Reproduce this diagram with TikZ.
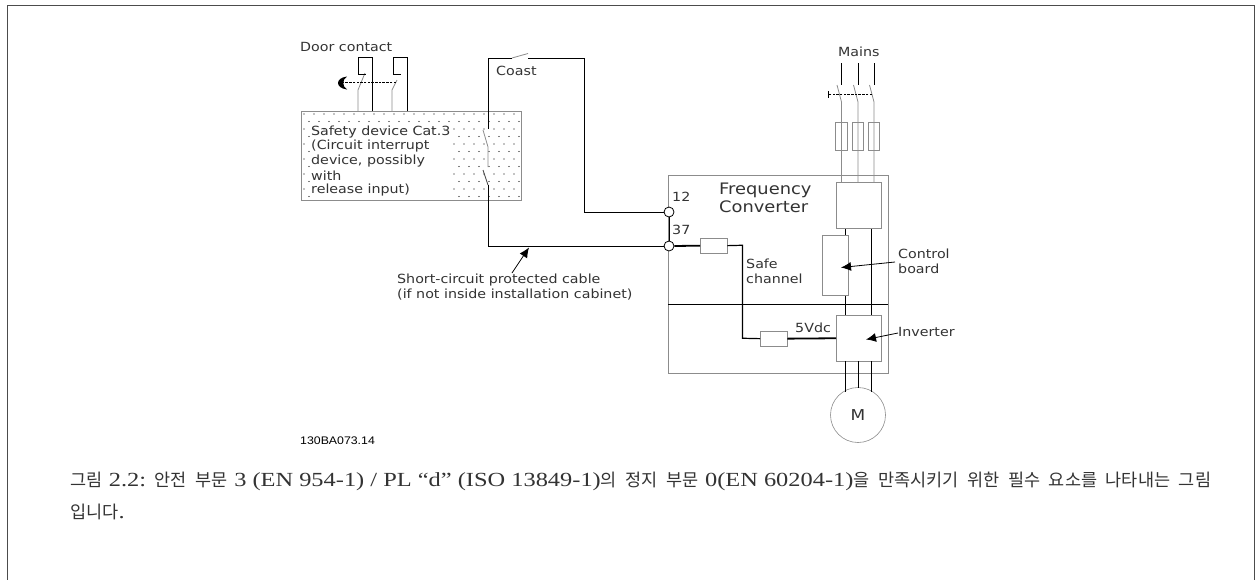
\documentclass[tikz,border=0pt]{standalone}
\usepackage{fontspec}
\setmainfont{DejaVu Sans}[FakeStretch=1.13]
\newfontfamily\krf{Noto Sans CJK KR}[WordSpace=2.2]
\newfontfamily\serf{Liberation Serif}[FakeStretch=1.22]
\newfontfamily\codef{Liberation Sans}[FakeStretch=1.12]
\newcommand{\krt}[1]{{\fontsize{17.5}{20}\krf #1}}
\newcommand{\sert}[1]{{\fontsize{20}{20}\serf #1}}
\usetikzlibrary{arrows.meta}
\definecolor{gr}{gray}{0.55}
\definecolor{tx}{gray}{0.2}
\tikzset{
  x=1pt,y=-1pt,
  lab/.style={font=\fontsize{12.6}{15}\selectfont,text=tx,inner sep=0,anchor=west,align=left},
  wire/.style={draw=black,line width=0.9pt},
  thin wire/.style={draw=gr,line width=0.8pt},
  thick wire/.style={draw=black,line width=1.8pt},
  gbox/.style={draw=gr,line width=0.8pt,fill=white,inner sep=0},
  term/.style={circle,draw=black,line width=0.8pt,fill=white,minimum size=10pt,inner sep=0},
  pointer/.style={draw=black,line width=0.8pt,-{Latex[length=10pt,width=9pt]}},
  capt/.style={inner sep=0,anchor=west,text=tx,font=\fontsize{18}{20}\selectfont}
}
\begin{document}
\begin{tikzpicture}
\useasboundingbox (0,0) rectangle (1255,579);
\fill[white] (0,0) rectangle (1255,579);
\draw[line width=0.9pt,draw=black!70] (7,581) -- (7,5.5) -- (1254,5.5) -- (1254,581);
% safety box
\node[gbox,minimum width=220pt,minimum height=89pt,anchor=north west] (safety) at (301,111) {};
\foreach \i in {0,...,11}{\foreach \j in {0,...,21}{
  \pgfmathsetmacro\px{304+\j*10+mod(\i,2)*5}
  \pgfmathsetmacro\py{114+\i*7.5}
  \ifnum\i>2\relax\pgfmathparse{\px<452?1:0}\else\def\pgfmathresult{0}\fi
  \ifnum\pgfmathresult=0\relax\fill[black] (\px,\py) circle (0.55pt);\else\ifnum\j=0\fill[black] (\px,\py) circle (0.55pt);\fi\fi
}}
\node[lab] (t1) at (311,132) {Safety device Cat.3};
\node[lab] (t2) at (311,146.5) {(Circuit interrupt};
\node[lab] (t3) at (311,161) {device, possibly};
\node[lab] (t4) at (311,176) {with};
\node[lab] (t5) at (311,190.5) {release input)};
\node[lab] (door) at (300,47) {Door contact};
\node[lab] (coast) at (496,71) {Coast};
\node[lab] (mains) at (838,52) {Mains};
\node[lab] (n12) at (672,197) {12};
\node[lab] (n37) at (672,230) {37};
\node[lab,font=\fontsize{15.8}{18}\selectfont] (fc) at (719,198) {Frequency\\Converter};
\node[lab] (safe) at (746,271) {Safe\\channel};
\node[lab] (vdc) at (795,328) {5Vdc};
\node[lab] (cb) at (898,261) {Control\\board};
\node[lab] (inv) at (898,331.5) {Inverter};
\node[lab] (sc) at (397,287) {Short-circuit protected cable\\(if not inside installation cabinet)};
\node[inner sep=0,anchor=west,font=\fontsize{11}{13}\codef] (code) at (300,441) {130BA073.14};
% door contacts
\coordinate (d1a) at (358,111); \coordinate (d1b) at (358,90); \coordinate (d1c) at (365,73);
\coordinate (d2a) at (392,111); \coordinate (d2b) at (392,90); \coordinate (d2c) at (397,80);
\draw[thin wire] (d1a) -- (d1b) -- (d1c);
\draw[thin wire] (d2a) -- (d2b) -- (d2c);
\draw[wire] (372,111) -- (372,57.5) -- (358.5,57.5) -- (358.5,74) -- (366,74);
\draw[wire] (407,111) -- (407,57.5) -- (393,57.5) -- (393,74) -- (401,74);
\coordinate (dash1) at (396,82.5); \coordinate (dash2) at (343,82.5);
\draw[black,line width=0.8pt,dash pattern=on 2.5pt off 1.2pt] (dash1) -- (dash2);
\fill[black] (347,76.5) .. controls (335,78) and (335,88) .. (347,89.5) .. controls (342,86) and (342,80) .. (347,76.5) -- cycle;
% converter
\node[gbox,fill=none,minimum width=220pt,minimum height=198pt,anchor=north west] (conv) at (668,175) {};
\draw[wire] (668,304) -- (888,304);
% coast wire
\node[term] (c12) at (669,212) {};
\node[term] (c37) at (669,246) {};
\coordinate (sw1) at (488,129);
\draw[wire] (sw1) -- (488,58) -- (512,58);
\draw[thin wire] (512,58) -- (528,53.5);
\draw[wire] (528,58) -- (584,58) -- (584,212) -- (c12.west);
\draw[thin wire] (483,130) -- (488,147) -- (488,167);
\draw[thin wire,draw=black!70] (483,170) -- (488,185);
\draw[wire] (488,185) -- (488,246) -- (c37.west);
\draw[wire] (c12.south) -- (c37.north);
\draw[wire] (845,228) -- (845,235);
\draw[wire] (845,295) -- (845,315);
\draw[wire] (871,228) -- (871,315);
\node[gbox,minimum width=45pt,minimum height=46pt,anchor=north west] (rect) at (836,182) {};
\node[gbox,minimum width=26pt,minimum height=60pt,anchor=north west] (ctrl) at (822,235) {};
\node[gbox,minimum width=45pt,minimum height=46pt,anchor=north west] (invb) at (836,315) {};
\node[circle,draw=gr,line width=0.6pt,fill=white,minimum size=55pt,inner sep=0,font=\fontsize{15}{15}\selectfont,text=tx] (mot) at (858,415) {M};
\draw[wire] (845,361) -- (845,391.5);
\draw[wire] (858,361) -- (858,388);
\draw[wire] (871,361) -- (871,391.5);
% mains
\foreach \x/\n in {841.5/a,858/b,874/c}{
  \draw[wire] (\x,63) -- (\x,85);
  \draw[thin wire] (\x-4.5,85) -- (\x,102) -- (\x,182);
  \node[gbox,fill=none,minimum width=11.5pt,minimum height=27.5pt,anchor=north] (f\n) at (\x,122) {};
}
\draw[black,line width=0.8pt,dash pattern=on 2.5pt off 1.2pt] (872,94) -- (828,94);
\draw[black,line width=0.8pt] (828.5,91) -- (828.5,97.5);
% safe channel
\node[gbox,minimum width=26.5pt,minimum height=14.5pt,anchor=north west] (r1) at (700,238) {};
\node[gbox,minimum width=26.5pt,minimum height=14.5pt,anchor=north west] (r2) at (760,331) {};
\draw[thick wire] (c37.east) -- (r1.west);
\draw[draw=black,line width=1.2pt] (r1.east) -- (742.5,245.25) -- (742.5,338.25) -- (r2.west);
\draw[thick wire] (r2.east) -- (836,338.25);
% pointers
\coordinate (pa) at (512,273);
\draw[pointer] (pa) -- (529,247.5);
\draw[pointer] (895,262) -- (841,267.5);
\draw[pointer] (898,333) -- (866,339.5);
% caption
\node[capt] (cap1) at (70,481) {\krt{그림} \sert{2.2:} \krt{안전 부문} \sert{3 (EN 954-1) / PL “d” (ISO 13849-1)}\krt{의 정지 부문} \sert{0(EN 60204-1)}\krt{을 만족시키기 위한 필수 요소를 나타내는 그림}};
\node[capt] (cap2) at (70,512) {\krt{입니다}\sert{.}};
\end{tikzpicture}
\end{document}
